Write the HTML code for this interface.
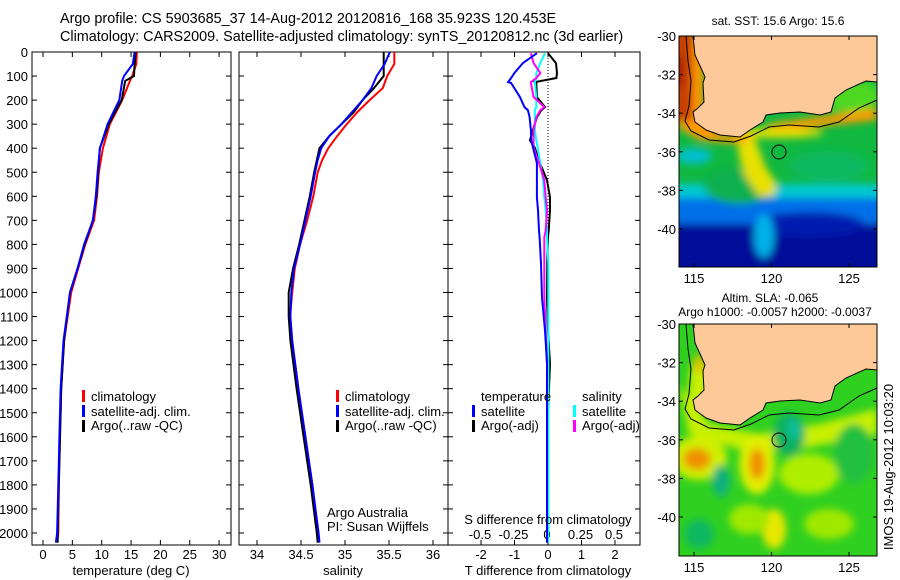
<!DOCTYPE html>
<html><head><meta charset="utf-8"><style>
html,body{margin:0;padding:0;background:#fff}
svg{display:block}
text{font-family:"Liberation Sans",sans-serif;fill:#000}
</style></head><body>
<svg id="fig" width="900" height="580" viewBox="0 0 900 580" xmlns="http://www.w3.org/2000/svg">
<defs>
<clipPath id="clipT"><rect x="32" y="52" width="199" height="493"/></clipPath>
<clipPath id="clipS"><rect x="239" y="52" width="209" height="493"/></clipPath>
<clipPath id="clipD"><rect x="448" y="52" width="192" height="493"/></clipPath>
<clipPath id="clipM1"><rect x="0" y="0" width="198" height="231"/></clipPath>
<clipPath id="clipM2"><rect x="0" y="0" width="198" height="232"/></clipPath>
<filter id="blur" x="-20%" y="-20%" width="140%" height="140%"><feGaussianBlur stdDeviation="4"/></filter>
</defs>
<text x="60" y="23" font-size="14.4">Argo profile: CS 5903685_37 14-Aug-2012 20120816_168 35.923S 120.453E</text>
<text x="60" y="41" font-size="14.4">Climatology: CARS2009. Satellite-adjusted climatology: synTS_20120812.nc (3d earlier)</text>

<g id="axes"></g>
<g id="series"></g>

<g>
<rect x="82" y="390" width="3" height="12" fill="#f00"/><text x="91" y="401" font-size="13">climatology</text>
<rect x="82" y="405" width="3" height="12" fill="#00f"/><text x="91" y="416" font-size="13">satellite-adj. clim.</text>
<rect x="82" y="420" width="3" height="12" fill="#000"/><text x="91" y="430" font-size="13">Argo(..raw -QC)</text>
</g>
<g>
<rect x="336" y="390" width="3" height="12" fill="#f00"/><text x="345" y="401" font-size="13">climatology</text>
<rect x="336" y="405" width="3" height="12" fill="#00f"/><text x="345" y="416" font-size="13">satellite-adj. clim.</text>
<rect x="336" y="420" width="3" height="12" fill="#000"/><text x="345" y="430" font-size="13">Argo(..raw -QC)</text>
</g>
<text x="327" y="517" font-size="13">Argo Australia</text>
<text x="327" y="531" font-size="13">PI: Susan Wijffels</text>
<g>
<text x="481" y="401" font-size="13">temperature</text>
<rect x="472" y="405" width="3" height="12" fill="#00f"/><text x="481" y="416" font-size="13">satellite</text>
<rect x="472" y="420" width="3" height="12" fill="#000"/><text x="481" y="430" font-size="13">Argo(-adj)</text>
<text x="582" y="401" font-size="13">salinity</text>
<rect x="573" y="405" width="3" height="12" fill="#0ff"/><text x="582" y="416" font-size="13">satellite</text>
<rect x="573" y="420" width="3" height="12" fill="#f0f"/><text x="582" y="430" font-size="13">Argo(-adj)</text>
</g>
<text x="131" y="575" font-size="13" text-anchor="middle">temperature (deg C)</text>
<text x="343" y="575" font-size="13" text-anchor="middle">salinity</text>
<text x="548" y="575" font-size="13" text-anchor="middle">T difference from climatology</text>
<text x="548" y="524" font-size="13" text-anchor="middle">S difference from climatology</text>

<text x="778" y="25" font-size="12" text-anchor="middle">sat. SST: 15.6 Argo: 15.6</text>
<g transform="translate(679,36)">
<g clip-path="url(#clipM1)">
<rect x="0" y="0" width="198" height="231" fill="#10b840"/>
<g filter="url(#blur)">
<rect x="-20" y="148" width="240" height="120" fill="#00c8d0"/>
<rect x="-20" y="162" width="240" height="100" fill="#0070e8"/>
<rect x="-20" y="188" width="240" height="80" fill="#000c98"/>
<ellipse cx="130" cy="188" rx="55" ry="12" fill="#001ab0"/>
<ellipse cx="85" cy="200" rx="10" ry="22" fill="#00b0e8"/>
<ellipse cx="60" cy="150" rx="35" ry="18" fill="#10b050"/>
<polygon points="58,102 76,102 86,130 98,148 94,160 80,160 66,140 60,120" fill="#e8e000"/>
<ellipse cx="150" cy="130" rx="40" ry="15" fill="#10b860"/>
<ellipse cx="15" cy="120" rx="18" ry="8" fill="#00c0d0"/>
<polygon points="0,0 25,0 25,80 40,98 80,100 90,88 198,72 198,84 90,96 60,108 20,104 0,92" fill="#ff9a00"/>
<ellipse cx="100" cy="97" rx="45" ry="5" fill="#e8e000"/>
<rect x="-10" y="-10" width="24" height="95" fill="#c84000"/>
<rect x="-10" y="20" width="14" height="30" fill="#a01800"/>
<ellipse cx="172" cy="60" rx="30" ry="16" fill="#50d820"/>
</g>
</g>
<polygon points="14,0 16,19 22,32 26,41 24,47 25,66 19,72 14,76 16,86 27,94 41,99 61,101 71,94 84,86 87,79 101,77 121,76 141,79 152,76 156,62 167,54 187,45 198,46 198,0" fill="#fdc999" stroke="#000" stroke-width="1"/>
<polyline points="7,0 9,25 12,45 10,70 6,85 12,95 30,104 55,106 72,100 90,91 110,89 140,91 160,86 180,72 198,64" fill="none" stroke="#000" stroke-width="1"/>
<circle cx="100" cy="116" r="7" fill="none" stroke="#000" stroke-width="1"/>
<rect x="0" y="0" width="198" height="231" fill="none" stroke="#000" stroke-width="1"/>
</g>

<text x="770" y="302" font-size="12" text-anchor="middle">Altim. SLA: -0.065</text>
<text x="775" y="316" font-size="12" text-anchor="middle">Argo h1000: -0.0057 h2000: -0.0037</text>
<g transform="translate(679,324)">
<g clip-path="url(#clipM2)">
<rect x="0" y="0" width="198" height="232" fill="#30d020"/>
<g filter="url(#blur)">
<polygon points="0,60 30,100 80,110 140,100 198,85 198,110 120,125 60,125 10,110" fill="#c8f000"/>
<ellipse cx="20" cy="62" rx="10" ry="28" fill="#c8f000"/>
<ellipse cx="20" cy="40" rx="5" ry="10" fill="#f0c000"/>
<ellipse cx="20" cy="134" rx="28" ry="22" fill="#d0f000"/>
<ellipse cx="18" cy="135" rx="14" ry="11" fill="#f09000"/>
<ellipse cx="78" cy="140" rx="18" ry="30" fill="#e0f000"/>
<ellipse cx="78" cy="140" rx="8" ry="16" fill="#f09000"/>
<ellipse cx="42" cy="157" rx="9" ry="16" fill="#10b080"/>
<ellipse cx="110" cy="110" rx="16" ry="22" fill="#10b060"/>
<ellipse cx="115" cy="105" rx="6" ry="10" fill="#10c0a0"/>
<ellipse cx="95" cy="205" rx="12" ry="20" fill="#e8e800"/>
<ellipse cx="130" cy="150" rx="30" ry="20" fill="#b0ee00"/>
<ellipse cx="175" cy="130" rx="20" ry="30" fill="#20c040"/>
<ellipse cx="70" cy="195" rx="20" ry="15" fill="#a0e800"/>
<ellipse cx="150" cy="200" rx="25" ry="15" fill="#a0e800"/>
<ellipse cx="20" cy="210" rx="15" ry="15" fill="#10b860"/>
</g>
</g>
<polygon points="14,0 16,19 22,32 26,41 24,47 25,66 19,72 14,76 16,86 27,94 41,99 61,101 71,94 84,86 87,79 101,77 121,76 141,79 152,76 156,62 167,54 187,45 198,46 198,0" fill="#fdc999" stroke="#000" stroke-width="1"/>
<polyline points="7,0 9,25 12,45 10,70 6,85 12,95 30,104 55,106 72,100 90,91 110,89 140,91 160,86 180,72 198,64" fill="none" stroke="#000" stroke-width="1"/>
<circle cx="100" cy="116" r="7" fill="none" stroke="#000" stroke-width="1"/>
<rect x="0" y="0" width="198" height="232" fill="none" stroke="#000" stroke-width="1"/>
</g>
<text transform="translate(893,467) rotate(-90)" font-size="13" text-anchor="middle">IMOS 19-Aug-2012 10:03:20</text>
<g id="mapaxes"></g>
</svg>
<script>
const tDepth = [0,50,100,120,200,300,400,500,600,700,800,900,1000,1200,1400,1600,1800,2000,2040];
const tClim  = [16.0,15.9,15.2,14.8,13.5,11.4,10.2,9.5,9.2,8.7,7.2,6.0,4.8,3.6,3.1,2.9,2.7,2.6,2.4];
const tSat   = [15.6,15.3,13.8,13.5,13.0,11.0,9.7,9.3,9.0,8.5,7.0,5.9,4.6,3.5,3.0,2.8,2.6,2.4,2.2];
const tArgo  = [15.8,15.6,15.5,14.0,13.4,11.2,9.7,9.4,9.1,8.5,7.1,5.9,4.6,3.6,3.1,2.9,2.7,2.5,2.5];
const sDepth = [0,50,100,150,200,250,300,350,400,450,500,600,700,800,900,1000,1100,1200,1400,1600,1800,2000,2040];
const sClim  = [35.56,35.56,35.48,35.43,35.28,35.14,35.02,34.91,34.81,34.74,34.69,34.64,34.57,34.49,34.43,34.40,34.375,34.40,34.47,34.55,34.63,34.69,34.70];
const sSat   = [35.51,35.45,35.36,35.30,35.20,35.08,34.96,34.82,34.73,34.69,34.66,34.61,34.55,34.49,34.42,34.39,34.38,34.40,34.47,34.55,34.63,34.70,34.71];
const sArgo  = [35.44,35.44,35.44,35.33,35.20,35.10,34.96,34.82,34.71,34.68,34.65,34.60,34.54,34.48,34.41,34.36,34.36,34.38,34.45,34.53,34.61,34.68,34.69];
const dDepth = [5,46,87,108,125,129,187,229,242,271,325,367,396,462,533,604,658,742,771,879,1021,1158,1296,1500,1800,2040];
const dTsat  = [-0.33,-0.75,-1.0,-1.1,-1.19,-1.1,-0.84,-0.7,-0.6,-0.55,-0.51,-0.5,-0.45,-0.33,-0.33,-0.33,-0.3,-0.27,-0.25,-0.21,-0.18,-0.09,-0.03,-0.03,-0.03,-0.03];
const dTargo = [0,0.24,0.27,0.25,-0.39,-0.35,-0.33,-0.09,-0.2,-0.33,-0.45,-0.54,-0.4,-0.24,-0.03,0.06,0.06,0.02,0,-0.02,-0.03,0.0,0.06,0.0,0.0,0.0];
const dSsat  = [-0.015,-0.05,-0.08,-0.08,-0.09,-0.09,-0.08,-0.08,-0.09,-0.09,-0.09,-0.08,-0.07,-0.05,-0.03,-0.02,-0.01,0,0,0.01,0.01,0.01,0.01,0.01,0.01,0.01];
const dSargo = [-0.12,-0.1,-0.05,-0.08,-0.12,-0.12,-0.1,-0.02,-0.05,-0.08,-0.1,-0.1,-0.1,-0.06,-0.02,-0.01,0,-0.01,-0.02,-0.02,-0.02,-0.01,0,0,0,0];
const depthTicks = [0,100,200,300,400,500,600,700,800,900,1000,1100,1200,1300,1400,1500,1600,1700,1800,1900,2000];
const tTicks = [0,5,10,15,20,25,30];
const sTicks = [34,34.5,35,35.5,36];
const dtTicks = [-2,-1,0,1,2];
const dsTicks = [-0.5,-0.25,0,0.25,0.5];
const dsTickLabels = ["-0.5","-0.25","0","0.25","0.5"];
const latTicks = [-30,-32,-34,-36,-38,-40];
const lonTicks = [115,120,125];

const NS="http://www.w3.org/2000/svg";
const yD = d => 52 + d*0.2405;
const xT = t => 43 + t*5.87;
const xS = s => 257 + (s-34)*88;
const xDT = v => 548 + v*33.5;
const xDS = v => 547 + v*134;
const mx = lon => 694 - 679 + (lon-115)*15.5;
const my = lat => (-30 - lat)*19.3;

function mk(tag, attrs, parent){const e=document.createElementNS(NS,tag);for(const k in attrs)e.setAttribute(k,attrs[k]);parent.appendChild(e);return e;}
const axes=document.getElementById('axes');
const ser=document.getElementById('series');

function panel(x0,x1,name){
  const r=mk('rect',{x:x0,y:52,width:x1-x0,height:493,fill:'none',stroke:'#000','stroke-width':1},axes);
  
  
  depthTicks.forEach(d=>{
    mk('line',{x1:x0,x2:x0+5,y1:yD(d),y2:yD(d),stroke:'#000'},axes);
    mk('line',{x1:x1,x2:x1-5,y1:yD(d),y2:yD(d),stroke:'#000'},axes);
  });
}
panel(32,231,'temperature-panel');
panel(239,448,'salinity-panel');
panel(448,640,'difference-panel');
depthTicks.forEach(d=>{
  const t=mk('text',{x:28,y:yD(d)+5,'font-size':13,'text-anchor':'end'},axes);
  t.textContent=d;
  
  
});
function xticks(vals,fx,labels,ly){
  vals.forEach((v,i)=>{
    const x=fx(v);
    mk('line',{x1:x,x2:x,y1:545,y2:540,stroke:'#000'},axes);
    mk('line',{x1:x,x2:x,y1:52,y2:57,stroke:'#000'},axes);
    const t=mk('text',{x:x,y:ly,'font-size':13,'text-anchor':'middle'},axes);
    t.textContent=labels?labels[i]:v;
    
    
  });
}
xticks(tTicks,xT,null,559);
xticks(sTicks,xS,null,559);
xticks(dtTicks,xDT,null,559);
dsTicks.forEach((v,i)=>{
  const t=mk('text',{x:xDS(v),y:539,'font-size':13,'text-anchor':'middle'},axes);
  t.textContent=dsTickLabels[i];
  
  
});
const zl=mk('line',{x1:xDT(0),x2:xDT(0),y1:52,y2:545,stroke:'#000','stroke-dasharray':'1,2'},axes);



function line(xs,ds,fx,color,clip,name){
  const pts=xs.map((v,i)=>fx(v).toFixed(1)+','+yD(ds[i]).toFixed(1)).join(' ');
  const p=mk('polyline',{points:pts,fill:'none',stroke:color,'stroke-width':2,'clip-path':'url(#'+clip+')'},ser);
  
  
}
line(tClim,tDepth,xT,'#f00','clipT','temperature-climatology-line');
line(tArgo,tDepth,xT,'#000','clipT','temperature-argo-line');
line(tSat,tDepth,xT,'#00f','clipT','temperature-satellite-line');
line(sClim,sDepth,xS,'#f00','clipS','salinity-climatology-line');
line(sArgo,sDepth,xS,'#000','clipS','salinity-argo-line');
line(sSat,sDepth,xS,'#00f','clipS','salinity-satellite-line');
line(dTargo,dDepth,xDT,'#000','clipD','t-diff-argo-line');
line(dSsat,dDepth,xDS,'#0ff','clipD','s-diff-satellite-line');
line(dSargo,dDepth,xDS,'#f0f','clipD','s-diff-argo-line');
line(dTsat,dDepth,xDT,'#00f','clipD','t-diff-satellite-line');

const ma=document.getElementById('mapaxes');
[[679,36,231,283],[679,324,232,572]].forEach(([ox,oy,h,ly])=>{
  latTicks.forEach(l=>{
    const y=oy+my(l);
    mk('line',{x1:ox,x2:ox+4,y1:y,y2:y,stroke:'#000'},ma);
    mk('line',{x1:ox+198,x2:ox+194,y1:y,y2:y,stroke:'#000'},ma);
    const t=mk('text',{x:ox-3,y:y+5,'font-size':13,'text-anchor':'end'},ma);
    t.textContent=l;
    
    
  });
  lonTicks.forEach(l=>{
    const x=ox+mx(l);
    mk('line',{x1:x,x2:x,y1:oy,y2:oy+4,stroke:'#000'},ma);
    mk('line',{x1:x,x2:x,y1:oy+h,y2:oy+h-4,stroke:'#000'},ma);
    const t=mk('text',{x:x,y:ly,'font-size':13,'text-anchor':'middle'},ma);
    t.textContent=l;
    
    
  });
});
</script>
</body></html>
